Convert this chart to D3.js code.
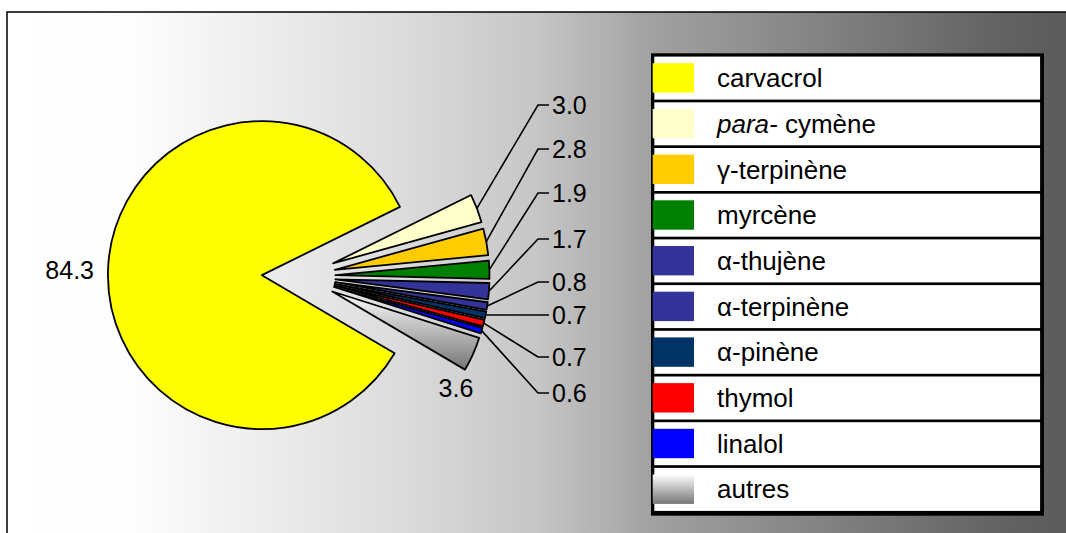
<!DOCTYPE html>
<html>
<head>
<meta charset="utf-8">
<script src="https://cdn.jsdelivr.net/npm/d3@7/dist/d3.min.js"></script>
<style>
  html, body { margin: 0; padding: 0; background: #ffffff; overflow: hidden; }
  svg { display: block; font-family: "Liberation Sans", Arial, sans-serif; }
</style>
</head>
<body>
<svg id="chart" width="1066" height="533"></svg>
<script>
// Essential oil composition (%)
const categories = ["carvacrol", "para-cymène", "γ-terpinène", "myrcène", "α-thujène",
                    "α-terpinène", "α-pinène", "thymol", "linalol", "autres"];
const values = [84.3, 3.0, 2.8, 1.9, 1.7, 0.8, 0.7, 0.7, 0.6, 3.6];
const colors = ["#FFFF00", "#FFFFCC", "#FFCC00", "#008000", "#333399",
                "#333399", "#003366", "#FF0000", "#0000FF", "url(#gradAutres)"];

const W = 1066, H = 533;
const svg = d3.select("#chart");
const defs = svg.append("defs");

// Plot-area background: horizontal white-to-grey gradient
const bg = defs.append("linearGradient")
  .attr("id", "gradBg")
  .attr("gradientUnits", "userSpaceOnUse")
  .attr("x1", 7).attr("y1", 0).attr("x2", W).attr("y2", 0);
[[0, "#ffffff"], [0.12, "#fdfdfd"], [0.37, "#dcdcdc"], [0.5, "#c6c6c6"],
 [0.58, "#acacac"], [0.6, "#a3a3a3"], [0.94, "#626262"], [1, "#5c5c5c"]]
  .forEach(([o, c]) => bg.append("stop").attr("offset", o).attr("stop-color", c));

// "autres" slice fill: vertical white-to-grey gradient
const ga = defs.append("linearGradient")
  .attr("id", "gradAutres")
  .attr("x1", 0).attr("y1", 0).attr("x2", 0).attr("y2", 1);
ga.append("stop").attr("offset", 0).attr("stop-color", "#ffffff");
ga.append("stop").attr("offset", 1).attr("stop-color", "#767676");

// plot area: only its top and left edges fall inside the view
svg.append("rect")
  .attr("x", 7).attr("y", 12)
  .attr("width", W + 40).attr("height", H + 40)
  .attr("fill", "url(#gradBg)");
svg.append("path")
  .attr("d", `M7,${H + 10}V12H${W + 10}`)
  .attr("fill", "none")
  .attr("stroke", "#000").attr("stroke-width", 1.5);

// ---------- Pie ----------
const cx = 298.7, cy = 276.5;   // pie centre
const r = 154;                  // radius
const explode = 36.8;           // every slice pulled out from the centre
const startDeg = 120.5;

const data = categories.map((name, i) => ({ name, value: values[i], color: colors[i] }));

const pie = d3.pie()
  .sort(null)
  .value(d => d.value)
  .startAngle(startDeg * Math.PI / 180)
  .endAngle(startDeg * Math.PI / 180 + 2 * Math.PI);

const arcs = pie(data);
const arc = d3.arc().innerRadius(0).outerRadius(r);

const mid = a => (a.startAngle + a.endAngle) / 2;
const dir = a => [Math.sin(mid(a)), -Math.cos(mid(a))];

const gPie = svg.append("g").attr("transform", `translate(${cx},${cy})`);

gPie.selectAll("path.slice")
  .data(arcs)
  .join("path")
  .attr("class", "slice")
  .attr("transform", a => {
    const [dx, dy] = dir(a);
    return `translate(${dx * explode},${dy * explode})`;
  })
  .attr("d", arc)
  .attr("fill", a => a.data.color)
  .attr("stroke", "#000")
  .attr("stroke-width", 1.8)
  .attr("stroke-linejoin", "round");

// ---------- Data labels ----------
const fmt = d3.format(".1f");
const fs = 25;
const outerPoint = a => {
  const [dx, dy] = dir(a);
  return [cx + dx * (explode + r), cy + dy * (explode + r)];
};

const gLab = svg.append("g")
  .attr("font-size", fs)
  .attr("fill", "#000");

// main slice label, placed left of the pie
{
  const a = arcs[0];
  const [px, py] = outerPoint(a);
  gLab.append("text")
    .attr("x", px - 14).attr("y", py + fs * 0.36)
    .attr("text-anchor", "end")
    .text(fmt(a.data.value));
}

// "autres" label, just below its slice
{
  const a = arcs[arcs.length - 1];
  const [px, py] = outerPoint(a);
  gLab.append("text")
    .attr("x", px - 17).attr("y", py + 34 + fs * 0.36)
    .attr("text-anchor", "middle")
    .text(fmt(a.data.value));
}

// the small slices are labelled in a column on the right, with leader lines
const small = arcs.slice(1, arcs.length - 1);
const slotY = [105, 149, 193, 239, 282, 315, 357, 393];
const elbowX = 538, lineEndX = 549, textX = 552;

small.forEach((a, i) => {
  const [px, py] = outerPoint(a);
  const y = slotY[i];
  const pts = Math.abs(py - y) < 3
    ? [[px, py], [lineEndX, y]]
    : [[px, py], [elbowX, y], [lineEndX, y]];
  gLab.append("path")
    .attr("d", d3.line()(pts))
    .attr("fill", "none")
    .attr("stroke", "#000")
    .attr("stroke-width", 1.6);
  gLab.append("text")
    .attr("x", textX).attr("y", y + fs * 0.36)
    .text(fmt(a.data.value));
});

// ---------- Legend ----------
const lg = { x: 651, y: 53.3, w: 393, h: 462.4, border: 3.3, rowStep: 45.7, rowH: 43 };
const gLeg = svg.append("g");

gLeg.append("rect")
  .attr("x", lg.x).attr("y", lg.y)
  .attr("width", lg.w).attr("height", lg.h)
  .attr("fill", "#000");

const rows = gLeg.selectAll("g.row")
  .data(data)
  .join("g")
  .attr("class", "row")
  .attr("transform", (d, i) => `translate(0,${lg.y + lg.border + i * lg.rowStep})`);

rows.append("rect")
  .attr("x", lg.x + lg.border).attr("y", 0)
  .attr("width", lg.w - 2 * lg.border - 0.6).attr("height", lg.rowH)
  .attr("fill", "#ffffff");

rows.append("rect")
  .attr("x", lg.x + 1.7).attr("y", 6.6)
  .attr("width", 41.3).attr("height", 29.4)
  .attr("fill", d => d.color);

rows.append("text")
  .attr("x", 717)
  .attr("y", lg.rowH / 2 + 9)
  .attr("font-size", 26)
  .attr("fill", "#000")
  .each(function (d) {
    const t = d3.select(this);
    if (d.name.startsWith("para-")) {
      t.append("tspan").attr("font-style", "italic").text("para-");
      t.append("tspan").text(" " + d.name.slice(5));
    } else {
      t.text(d.name);
    }
  });
</script>
</body>
</html>
